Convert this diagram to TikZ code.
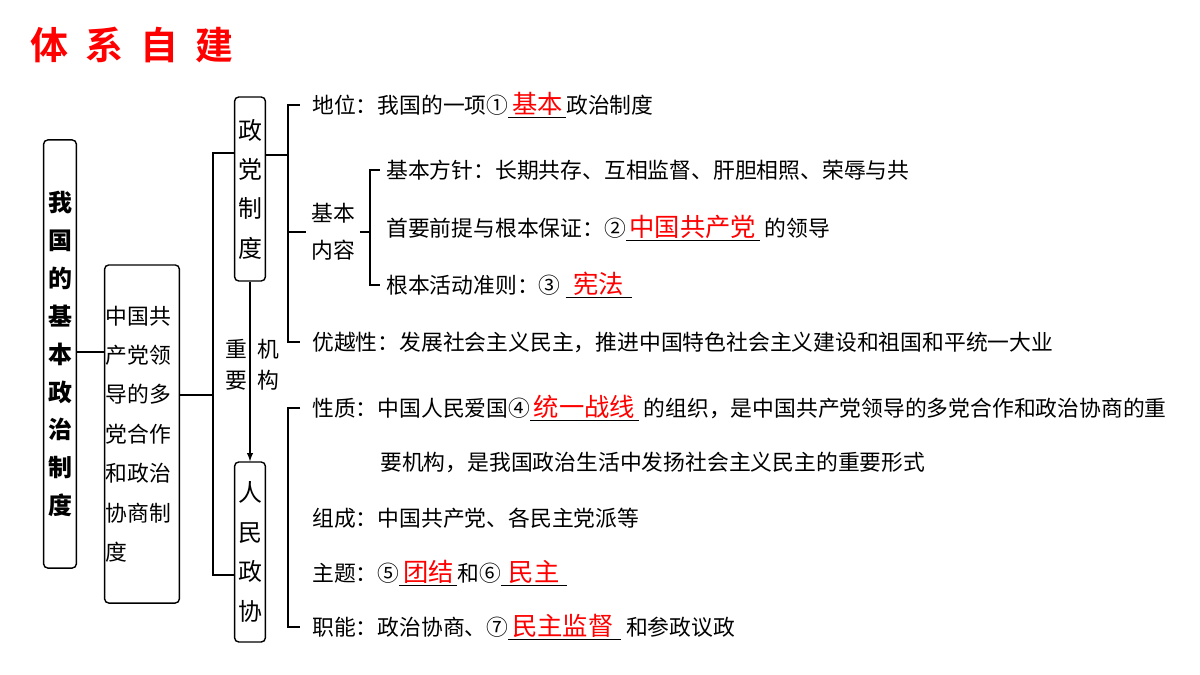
\documentclass[tikz,border=0pt]{standalone}
\usepackage{fontspec}
\setmainfont{Noto Sans CJK SC}
\newfontfamily\tfont{Noto Sans CJK SC Bold}
\newcommand\ans[1]{\underline{\hbox{\,\textcolor{red}{\fontsize{18}{20}\selectfont #1}\,}}}
\begin{document}
\begin{tikzpicture}[x=0.025cm,y=-0.025cm,
  box/.style={draw,line width=1pt,rounded corners=3pt,align=center,inner sep=1pt},
  txt/.style={anchor=west,inner sep=0pt,font=\fontsize{15.5}{18}\selectfont},
  ln/.style={line width=1pt}]
\useasboundingbox (0,0) rectangle (1200,675);
\node[font=\tfont\fontsize{27}{30}\selectfont,text=red] (title) at (132,45) {体\;\,系\;\,自\;\,建};
\node[box,text width=0.75cm,minimum height=10.7cm,font=\fontsize{17}{27}\selectfont\bfseries] (b1) at (60,354) {我\\国\\的\\基\\本\\政\\治\\制\\度};
\node[box,text width=1.8cm,minimum height=8.45cm,font=\fontsize{15.5}{28}\selectfont,align=left] (b2) at (142,434) {中国共\\产党领\\导的多\\党合作\\和政治\\协商制\\度};
\node[box,text width=0.7cm,minimum height=4.6cm,font=\fontsize{17}{28}\selectfont] (b3) at (250,189) {政\\党\\制\\度};
\node[box,text width=0.7cm,minimum height=4.5cm,font=\fontsize{17}{28}\selectfont] (b4) at (250,552) {人\\民\\政\\协};
\draw[ln] (b1.east|-0,352) -- (b2.west|-0,352);
\coordinate (j1) at (213,395);
\draw[ln] (b2.east|-0,395) -- (j1);
\draw[ln] (b3.west|-0,153) -- (213,153) -- (213,575) -- (b4.west|-0,575);
\draw[ln,-latex] (b3.south) -- (b4.north);
\node[font=\fontsize{15.5}{22}\selectfont,align=center] (zy) at (236,365) {重\\要};
\node[font=\fontsize{15.5}{22}\selectfont,align=center] (jg) at (268,365) {机\\构};
\draw[ln] (b3.east|-0,155) -- (288,155);
\draw[ln] (300,105) -- (288,105) -- (288,342) -- (300,342);
\node[txt] (dw) at (312,105) {地位：我国的一项①\ans{基本}政治制度};
\node[font=\fontsize{15.5}{26}\selectfont,align=center] (jb) at (333,232) {基本\\内容};
\draw[ln] (288,232) -- (jb.west);
\draw[ln] (jb.east) -- (370,232);
\draw[ln] (380,170) -- (370,170) -- (370,285) -- (380,285);
\node[txt] (fz) at (386,170) {基本方针：长期共存、互相监督、肝胆相照、荣辱与共};
\node[txt] (sy) at (386,228) {首要前提与根本保证：②\ans{中国共产党} 的领导};
\node[txt] (gb) at (386,285) {根本活动准则：③ \ans{\,宪法\,}};
\node[txt] (yy) at (312,342) {优越性：发展社会主义民主，推进中国特色社会主义建设和祖国和平统一大业};
\draw[ln] (300,408) -- (288,408) -- (288,627) -- (300,627);
\node[txt] (xz) at (312,408) {性质：中国人民爱国④\ans{统一战线} 的组织，是中国共产党领导的多党合作和政治协商的重};
\node[txt] (xz2) at (380,462) {要机构，是我国政治生活中发扬社会主义民主的重要形式};
\node[txt] (zc) at (312,518) {组成：中国共产党、各民主党派等};
\node[txt] (zt) at (312,573) {主题：⑤\ans{团结}和⑥\ans{\,民主\,}};
\node[txt] (zn) at (312,627) {职能：政治协商、⑦\ans{民主监督\,} 和参政议政};
\end{tikzpicture}
\end{document}
